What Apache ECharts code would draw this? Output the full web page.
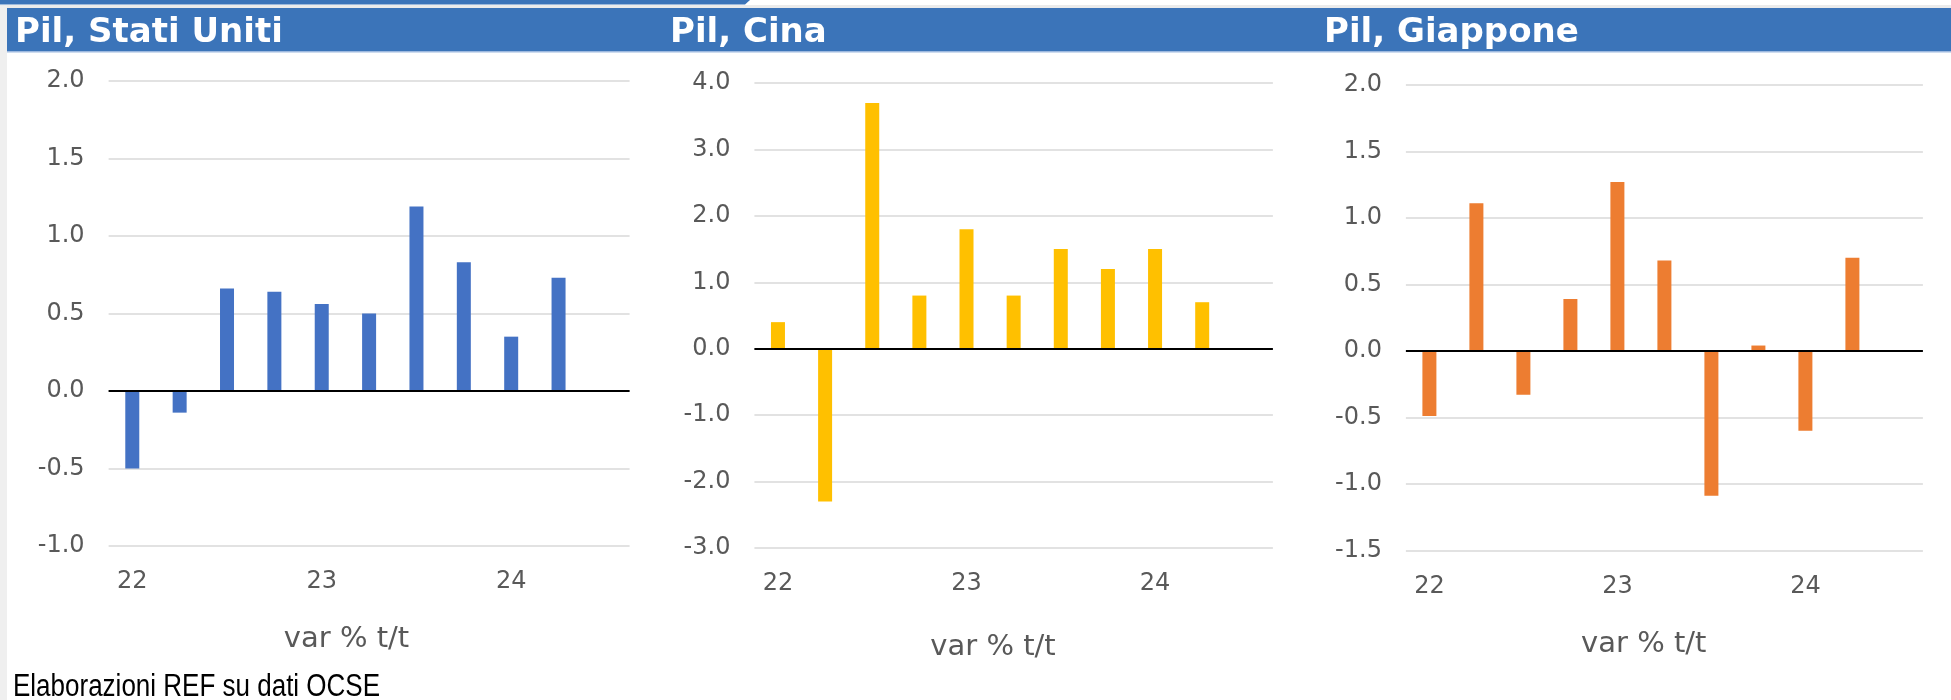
<!DOCTYPE html>
<html>
<head>
<meta charset="utf-8">
<script src="https://cdn.jsdelivr.net/npm/echarts@6.0.0/dist/echarts.min.js"></script>
<style>
html,body{margin:0;padding:0;background:#fff;}
#chart{width:1951px;height:700px;}
</style>
</head>
<body>
<div id="chart"></div>
<script>
// ---- data ----
const quarters = ['22Q1','22Q2','22Q3','22Q4','23Q1','23Q2','23Q3','23Q4','24Q1','24Q2','24Q3'];
const usa      = [-0.50, -0.14, 0.66, 0.64, 0.56, 0.50, 1.19, 0.83, 0.35, 0.73, null];
const cina     = [0.40, -2.30, 3.70, 0.80, 1.80, 0.80, 1.50, 1.20, 1.50, 0.70, null];
const giappone = [-0.49, 1.11, -0.33, 0.39, 1.27, 0.68, -1.09, 0.04, -0.60, 0.70, null];
const titles = ['Pil, Stati Uniti', 'Pil, Cina', 'Pil, Giappone'];
const axisName = 'var % t/t';
const source = 'Elaborazioni REF su dati OCSE';
// y-axis ranges [min, max, step]
const usaRange = [-1, 2, 0.5];
const cinaRange = [-3, 4, 1];
const giapponeRange = [-1.5, 2, 0.5];

const FONT = 'DejaVu Sans';
const LABEL = '#595959';

const panels = [
  {data: usa, range: usaRange, color: '#4472C4', grid: {left: 108.6, top: 80.8, width: 521, height: 465.2}, title: 15, name: [346.5, 639]},
  {data: cina, range: cinaRange, color: '#FFC000', grid: {left: 754.4, top: 83, width: 518.5, height: 465}, title: 670, name: [993, 647]},
  {data: giappone, range: giapponeRange, color: '#ED7D31', grid: {left: 1405.9, top: 84.8, width: 517, height: 465.6}, title: 1324, name: [1643.8, 644]}
];

const chart = echarts.init(document.getElementById('chart'), null, {renderer: 'canvas'});

const grids = [], xAxes = [], yAxes = [], series = [];
const graphics = [
  {type: 'rect', shape: {x: 0, y: 0, width: 1951, height: 700}, style: {fill: '#ffffff'}, z: -10, silent: true},
  {type: 'rect', shape: {x: 0, y: 5, width: 1951, height: 3}, style: {fill: '#EBEBEB'}, silent: true},
  {type: 'polygon', shape: {points: [[0,0],[750,0],[745,4.5],[0,4.5]]}, style: {fill: '#3B74B9'}, silent: true},
  {type: 'rect', shape: {x: 0, y: 6, width: 7, height: 694}, style: {fill: '#EFEFEF'}, silent: true},
  {type: 'rect', shape: {x: 7, y: 8, width: 1944, height: 43}, style: {fill: '#3B74B9'}, silent: true},
  {type: 'rect', shape: {x: 7, y: 51, width: 1944, height: 1.5}, style: {fill: '#9DB9DF'}, silent: true},
  {type: 'text', x: 13, y: 687, scaleY: 1.2, style: {text: source, font: '26px "Liberation Sans"', fill: '#000000', verticalAlign: 'middle', align: 'left'}, silent: true}
];

panels.forEach((p, i) => {
  grids.push(Object.assign({containLabel: false}, p.grid));
  xAxes.push({
    type: 'category', gridIndex: i, data: quarters, boundaryGap: true,
    axisLine: {show: false, onZero: false}, axisTick: {show: false},
    splitLine: {show: false},
    axisLabel: {
      interval: (idx) => idx % 4 === 0, margin: 24, color: LABEL,
      fontFamily: FONT, fontSize: 24,
      formatter: v => v.slice(0, 2)
    }
  });
  yAxes.push({
    type: 'value', gridIndex: i, min: p.range[0], max: p.range[1], interval: p.range[2],
    axisLine: {show: false}, axisTick: {show: false},
    splitLine: {show: true, lineStyle: {color: '#D9D9D9', width: 1.5}},
    axisLabel: {margin: 24, color: LABEL, fontFamily: FONT, fontSize: 24, padding: [4, 0, 0, 0], formatter: v => v.toFixed(1)}
  });
  series.push({
    type: 'bar', xAxisIndex: i, yAxisIndex: i, data: p.data, barWidth: 14,
    itemStyle: {color: p.color}, silent: true, animation: false,
    markLine: {
      silent: true, symbol: 'none', animation: false,
      label: {show: false},
      lineStyle: {color: '#000000', width: 1.8, type: 'solid'},
      data: [{yAxis: 0}]
    }
  });
  graphics.push({type: 'text', x: p.title, y: 33, style: {text: titles[i], font: 'bold 34px "DejaVu Sans"', fill: '#ffffff', verticalAlign: 'middle', align: 'left'}, silent: true});
  graphics.push({type: 'text', x: p.name[0], y: p.name[1], style: {text: axisName, font: '29px "DejaVu Sans"', fill: LABEL, verticalAlign: 'middle', align: 'center'}, silent: true});
});

chart.setOption({
  animation: false,
  backgroundColor: '#ffffff',
  grid: grids,
  xAxis: xAxes,
  yAxis: yAxes,
  series: series,
  graphic: graphics
});
</script>
</body>
</html>
